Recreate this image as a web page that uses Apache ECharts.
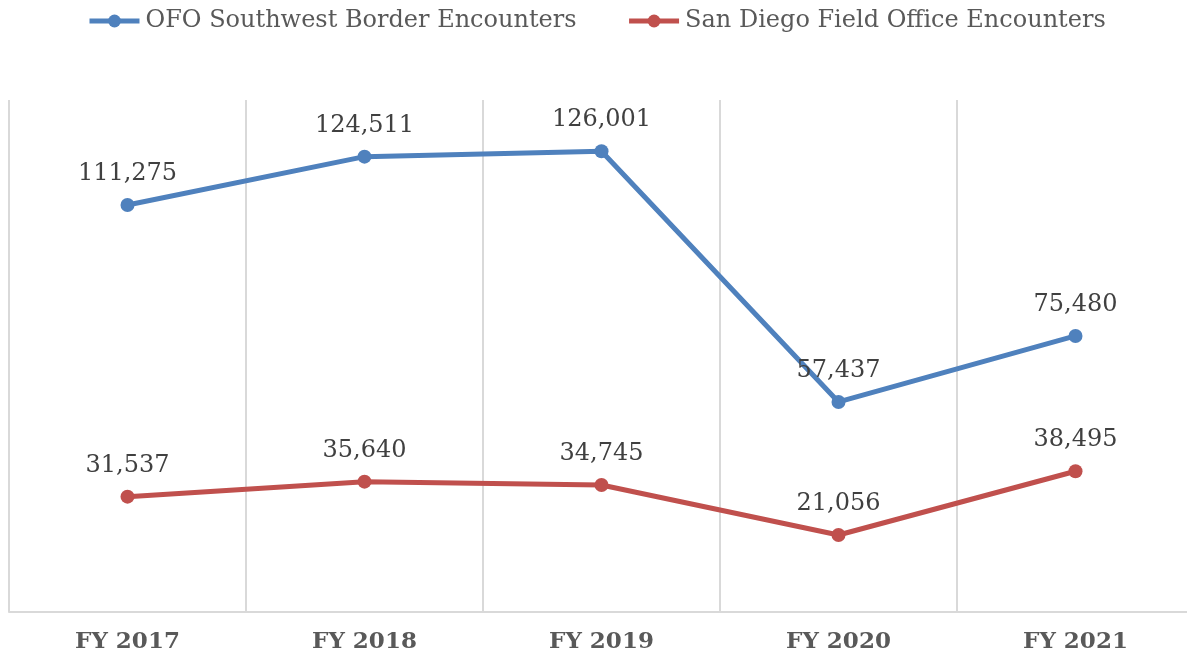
<!DOCTYPE html>
<html>
<head>
<meta charset="utf-8">
<script src="https://cdn.jsdelivr.net/npm/echarts@6/dist/echarts.min.js"></script>
<style>
  html, body { margin: 0; padding: 0; background: #fff; overflow: hidden; }
  #chart { width: 1194px; height: 654px; }
</style>
</head>
<body>
<div id="chart"></div>
<script>
const categories = ['FY 2017', 'FY 2018', 'FY 2019', 'FY 2020', 'FY 2021']
const ofoSouthwest = [111275, 124511, 126001, 57437, 75480]
const sanDiego = [31537, 35640, 34745, 21056, 38495]

const font = '"DejaVu Serif", "Liberation Serif", serif'

// chart div is a bit wider than the window so the last gridline falls off the right edge
const chart = echarts.init(document.getElementById('chart'))

function labelStyle() {
  return {
    show: true,
    position: 'top',
    distance: 12,
    fontFamily: font,
    fontSize: 24,
    color: '#404040',
    formatter: p => p.value.toLocaleString('en-US')
  }
}

const option = {
  animation: false,
  textStyle: { fontFamily: font },
  color: ['#4f81bd', '#c0504d'],
  legend: {
    top: 4,
    left: 82,
    itemGap: 50,
    itemWidth: 50,
    itemHeight: 16,
    lineStyle: { width: 5 },
    textStyle: { fontFamily: font, fontSize: 24, color: '#595959', padding: [0, 0, 0, 1] },
    data: ['OFO Southwest Border Encounters', 'San Diego Field Office Encounters']
  },
  grid: {
    left: 9,
    top: 100,
    right: 0,
    bottom: 41,
    containLabel: false
  },
  xAxis: {
    type: 'category',
    boundaryGap: true,
    data: categories,
    axisLine: { lineStyle: { color: '#d9d9d9', width: 2 } },
    axisTick: { show: false },
    axisLabel: {
      margin: 19,
      fontFamily: font,
      fontSize: 23,
      fontWeight: 'bold',
      color: '#595959'
    },
    splitLine: { show: true, interval: 0, lineStyle: { color: '#d9d9d9', width: 2 } }
  },
  yAxis: {
    type: 'value',
    min: 0,
    max: 140000,
    show: false,
    splitLine: { show: false }
  },
  series: [
    {
      name: 'OFO Southwest Border Encounters',
      type: 'line',
      data: ofoSouthwest,
      symbol: 'circle',
      symbolSize: 14,
      lineStyle: { width: 5 },
      label: labelStyle()
    },
    {
      name: 'San Diego Field Office Encounters',
      type: 'line',
      data: sanDiego,
      symbol: 'circle',
      symbolSize: 14,
      lineStyle: { width: 5 },
      label: labelStyle()
    }
  ]
}
chart.setOption(option)
</script>
</body>
</html>
